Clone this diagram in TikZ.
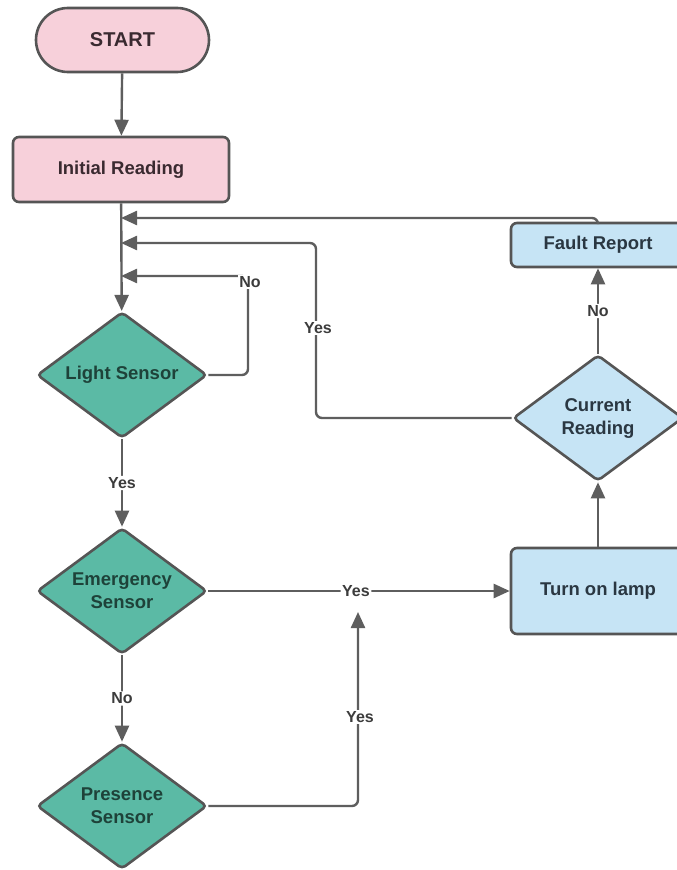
\documentclass[tikz,border=0pt]{standalone}
\usepackage{fontspec}
\setmainfont{Liberation Sans}
\usetikzlibrary{shapes.geometric,arrows.meta}

\definecolor{pinkfill}{HTML}{F7D0DA}
\definecolor{tealfill}{HTML}{5BBAA5}
\definecolor{bluefill}{HTML}{C6E4F5}
\definecolor{edge}{HTML}{555555}
\definecolor{wire}{HTML}{5E5E5E}
\definecolor{pinktxt}{HTML}{3A2A30}
\definecolor{tealtxt}{HTML}{1E4239}
\definecolor{bluetxt}{HTML}{2A3742}
\definecolor{lbltxt}{HTML}{3C3C3C}

\begin{document}
\begin{tikzpicture}[x=1pt,y=-1pt,
  mainfont/.style={font=\bfseries\fontsize{18.5}{23}\selectfont},
  procbox/.style={draw=edge, line width=2.6pt, rounded corners=6pt, inner sep=0pt, mainfont, align=center},
  decision/.style={diamond, draw=edge, line width=2.6pt, rounded corners=4pt, inner sep=0pt,
    aspect=1.35, minimum width=170pt, minimum height=126pt, mainfont, align=center},
  flow/.style={draw=wire, line width=2.4pt, rounded corners=6pt, -{Triangle[length=16pt,width=14pt]}},
  lbl/.style={fill=white, inner sep=1.5pt, text=lbltxt, font=\bfseries\fontsize{16}{18}\selectfont}]

\useasboundingbox[fill=white] (0,0) rectangle (677,870);

% terminal and process boxes
\node[procbox, fill=pinkfill, text=pinktxt, rounded corners=32pt, minimum width=173pt, minimum height=64pt,
      font=\bfseries\fontsize{20}{24}\selectfont] (start) at (122.5,40) {START};
\node[procbox, fill=pinkfill, text=pinktxt, minimum width=216pt, minimum height=65pt] (init) at (121,169.5) {Initial Reading};

% decisions on the sensor chain
\node[decision, fill=tealfill, text=tealtxt] (light) at (122,375) {Light Sensor};
\node[decision, fill=tealfill, text=tealtxt] (emerg) at (122,591) {Emergency\\Sensor};
\node[decision, fill=tealfill, text=tealtxt] (pres) at (122,806) {Presence\\Sensor};

% lamp branch
\node[procbox, fill=bluefill, text=bluetxt, minimum width=174pt, minimum height=86pt] (lamp) at (598,591) {Turn on lamp};
\node[decision, fill=bluefill, text=bluetxt] (curr) at (598,418) {Current\\Reading};
\node[procbox, fill=bluefill, text=bluetxt, minimum width=174pt, minimum height=44pt] (fault) at (598,245) {Fault Report};

% bend points and free ends
\coordinate (trunkA) at (121,218);
\coordinate (trunkB) at (121,243);
\coordinate (trunkC) at (121,276);
\coordinate (faultTurn) at (598,218);
\coordinate (yesTopR) at (316,243);
\coordinate (yesBotR) at (316,418);
\coordinate (noTopR) at (248,276);
\coordinate (noBotR) at (248,375);
\coordinate (presTurn) at (358,806);
\coordinate (presTip) at (358,612);

% main chain
\draw[flow] (start) -- (init);
\draw[flow] (init) -- (light);
\draw[flow] (light) -- node[lbl] {Yes} (emerg);
\draw[flow] (emerg) -- node[lbl] {No} (pres);

% feedback loops into the trunk
\draw[flow] (light.east) -- (noBotR) -- (noTopR) -- (trunkC);
\draw[flow] (curr.west) -- (yesBotR) -- (yesTopR) -- (trunkB);
\draw[flow] (fault.north) -- (faultTurn) -- (trunkA);

% lamp branch
\draw[flow] (emerg.east) -- node[lbl, pos=0.49] {Yes} (lamp.west);
\draw[flow] (pres.east) -- (presTurn) -- (presTip);
\draw[flow] (lamp) -- (curr);
\draw[flow] (curr) -- node[lbl] {No} (fault);

% branch labels
\node[lbl] at (250,282) {No};
\node[lbl] at (318,328) {Yes};
\node[lbl] at (360,717) {Yes};
\end{tikzpicture}
\end{document}
